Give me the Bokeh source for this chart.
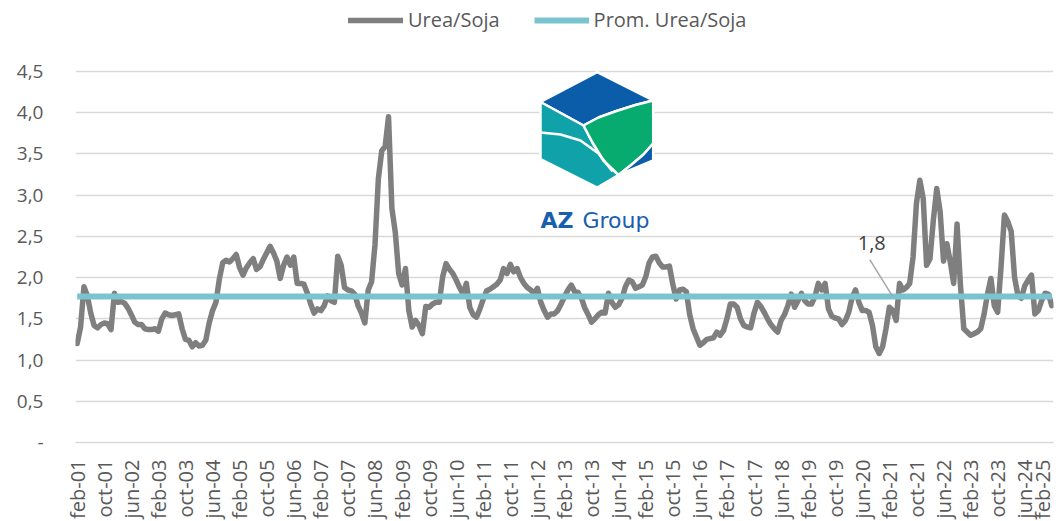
import math
from bokeh.plotting import figure
from bokeh.models import FixedTicker, Legend, LegendItem, Label
from bokeh.core.properties import value
from bokeh.embed import file_html
from bokeh.resources import INLINE

# ---------------- data ----------------
MONTH_ABBR = ["ene", "feb", "mar", "abr", "may", "jun", "jul", "ago", "sep", "oct", "nov", "dic"]
START_YEAR = 2001
START_MONTH = 2  # feb-01

UREA_SOJA = [
    1.20, 1.40, 1.89, 1.78, 1.57, 1.42, 1.39, 1.43, 1.45, 1.44, 1.37, 1.81,
    1.70, 1.71, 1.69, 1.63, 1.55, 1.46, 1.43, 1.43, 1.38, 1.37, 1.37, 1.38,
    1.35, 1.50, 1.57, 1.55, 1.54, 1.55, 1.56, 1.38, 1.25, 1.24, 1.16, 1.21,
    1.17, 1.18, 1.24, 1.45, 1.60, 1.70, 1.98, 2.18, 2.21, 2.19, 2.23, 2.28,
    2.12, 2.03, 2.12, 2.18, 2.23, 2.10, 2.13, 2.22, 2.30, 2.38, 2.30, 2.20,
    1.99, 2.15, 2.25, 2.15, 2.25, 1.93, 1.93, 1.92, 1.81, 1.68, 1.57, 1.62,
    1.60, 1.66, 1.78, 1.72, 1.70, 2.26, 2.15, 1.88, 1.85, 1.84, 1.80, 1.66,
    1.57, 1.45, 1.85, 1.95, 2.40, 3.20, 3.54, 3.59, 3.95, 2.84, 2.55, 2.05,
    1.91, 2.11, 1.60, 1.40, 1.48, 1.42, 1.32, 1.65, 1.64, 1.68, 1.70, 1.70,
    2.01, 2.17, 2.10, 2.05, 1.97, 1.88, 1.80, 1.93, 1.64, 1.55, 1.52, 1.62,
    1.74, 1.84, 1.86, 1.89, 1.92, 1.97, 2.11, 2.05, 2.16, 2.07, 2.11, 2.00,
    1.93, 1.88, 1.85, 1.81, 1.87, 1.70, 1.60, 1.52, 1.56, 1.56, 1.60, 1.68,
    1.77, 1.85, 1.91, 1.83, 1.82, 1.75, 1.63, 1.55, 1.46, 1.50, 1.55, 1.58,
    1.57, 1.81, 1.70, 1.64, 1.67, 1.75, 1.89, 1.97, 1.95, 1.87, 1.89, 1.91,
    2.01, 2.18, 2.25, 2.26, 2.18, 2.13, 2.13, 2.14, 1.92, 1.74, 1.85, 1.86,
    1.83, 1.55, 1.38, 1.28, 1.18, 1.21, 1.25, 1.26, 1.27, 1.34, 1.30, 1.36,
    1.50, 1.68, 1.68, 1.64, 1.50, 1.42, 1.40, 1.39, 1.57, 1.70, 1.65, 1.58,
    1.50, 1.43, 1.38, 1.34, 1.48, 1.55, 1.66, 1.80, 1.64, 1.72, 1.81, 1.72,
    1.68, 1.68, 1.77, 1.93, 1.85, 1.93, 1.62, 1.53, 1.51, 1.50, 1.43, 1.48,
    1.58, 1.76, 1.85, 1.70, 1.60, 1.60, 1.58, 1.42, 1.16, 1.08, 1.16, 1.38,
    1.64, 1.60, 1.48, 1.93, 1.85, 1.88, 1.93, 2.25, 2.90, 3.18, 2.96, 2.15,
    2.23, 2.70, 3.08, 2.80, 2.20, 2.41, 2.19, 1.93, 2.65, 1.91, 1.38, 1.34,
    1.30, 1.32, 1.34, 1.38, 1.56, 1.80, 1.99, 1.66, 1.58, 2.13, 2.76, 2.68,
    2.56, 2.00, 1.78, 1.75, 1.90, 1.97, 2.03, 1.56, 1.60, 1.72, 1.81, 1.80,
    1.66,
]
PROM_UREA_SOJA = 1.77

SERIES_NAMES = ["Urea/Soja", "Prom. Urea/Soja"]
Y_TICKS = [0, 0.5, 1.0, 1.5, 2.0, 2.5, 3.0, 3.5, 4.0, 4.5]
Y_TICK_LABELS = ["-", "0,5", "1,0", "1,5", "2,0", "2,5", "3,0", "3,5", "4,0", "4,5"]
Y_AXIS_MAX = 4.5
LABEL_STEP = 8
ANNOT_TEXT = "1,8"
ANNOT_INDEX = 241

# ---------------- derived ----------------
n = len(UREA_SOJA)
xs = list(range(n))
month_labels = []
for i in range(n):
    m = START_MONTH - 1 + i
    month_labels.append(f"{MONTH_ABBR[m % 12]}-{(START_YEAR + m // 12) % 100:02d}")
x_ticks = list(range(0, n, LABEL_STEP))

FONT = "Open Sans"
TXT = "#595959"
GRID = "#D9D9D9"
FS = "20px"
TICK_FS = "19px"

# the value axis spans 371 px (0 .. 4.5); the frame is extended upward so
# that the legend and logo (drawn in the top white space) sit inside it.
AXIS_PX = 371
FW, FH = 978, 442
BL, BR, BT, BB = 75, 2, 0, 77
X0, X1 = -0.5, n - 0.5
PPX = FW / (X1 - X0)
PPY = AXIS_PX / Y_AXIS_MAX
Y0 = 0
Y1 = Y0 + FH / PPY

p = figure(frame_width=FW, frame_height=FH, x_range=(X0, X1), y_range=(Y0, Y1),
           output_backend="svg", toolbar_location=None,
           min_border_left=BL, min_border_right=BR, min_border_top=BT, min_border_bottom=BB)
p.outline_line_color = None
p.background_fill_color = "white"
p.border_fill_color = "white"

LEFT_PAGE = BL
BOTTOM_PAGE = BT + FH


def dx(px):
    return X0 + (px - LEFT_PAGE) / PPX


def dy(py):
    return Y0 + (BOTTOM_PAGE - py) / PPY


# axes
p.xaxis.ticker = FixedTicker(ticks=x_ticks)
p.xaxis.major_label_overrides = {t: month_labels[t] for t in x_ticks}
p.xaxis.major_label_orientation = math.pi / 2
p.xaxis.major_tick_line_color = None
p.xaxis.minor_tick_line_color = None
p.xaxis.axis_line_color = GRID
p.xaxis.axis_line_width = 1.5
p.xaxis.major_label_standoff = 11
p.xaxis.major_label_text_font = FONT
p.xaxis.major_label_text_font_size = FS
p.xaxis.major_label_text_color = TXT

p.yaxis.ticker = FixedTicker(ticks=Y_TICKS)
p.yaxis.major_label_overrides = {t: l for t, l in zip(Y_TICKS, Y_TICK_LABELS)}
p.yaxis.major_tick_line_color = None
p.yaxis.minor_tick_line_color = None
p.yaxis.axis_line_color = None
p.yaxis.major_label_standoff = 26
p.yaxis.major_label_text_font = FONT
p.yaxis.major_label_text_font_size = TICK_FS
p.yaxis.major_label_text_color = TXT

p.xgrid.visible = False
p.ygrid.grid_line_color = GRID
p.ygrid.grid_line_width = 1.5

# ---------------- logo (decoration) ----------------
BLUE = "#0B5DAA"
TEAL = "#0FA2A8"
GREEN = "#07AA6F"


def patch_px(pts, color):
    p.patch([dx(a) for a, b in pts], [dy(b) for a, b in pts], fill_color=color,
            line_color="white", line_width=2.5, line_join="round")


T = (596.7, 71.7)
UR = (652.7, 100.0)
RM = (652.7, 143.0)
LR = (652.7, 160.0)
B = (596.7, 187.0)
LL = (540.0, 158.5)
UL = (540.0, 101.5)
C = (583.0, 125.0)
BOT = (618.0, 174.5)
upper_curve = [(598, 117), (616, 110.5), (635, 104.5)]
right_curve = [(643, 154), (630, 165)]
left_curve = [(603, 160), (592, 142)]

patch_px([T, UR] + upper_curve[::-1] + [C, UL], BLUE)
patch_px([UL, C] + left_curve[::-1] + [BOT, B, LL], TEAL)
patch_px([C] + upper_curve + [UR, RM] + right_curve + [BOT] + left_curve, GREEN)
patch_px([RM, LR, BOT] + right_curve[::-1], BLUE)
inner = [(540, 132), (560, 134), (580, 140), (598, 153), (612, 171)]
p.line([dx(a) for a, b in inner], [dy(b) for a, b in inner], line_color="white", line_width=2.5)

p.text(x=[dx(540)], y=[dy(220)], text=["AZ"], text_font=value("DejaVu Sans"), text_font_style="bold",
       text_font_size="22px", text_color="#1760B0", text_baseline="alphabetic", text_align="left")
p.text(x=[dx(582)], y=[dy(220)], text=["Group"], text_font=value("DejaVu Sans"),
       text_font_size="22px", text_color="#1760B0", text_baseline="alphabetic", text_align="left")

# ---------------- series ----------------
r_main = p.line(xs, UREA_SOJA, line_color="#7F7F7F", line_width=5.5, line_join="round", line_cap="round")
r_prom = p.line(xs, [PROM_UREA_SOJA] * n, line_color="#7AC4D0", line_width=6)

# annotation
ax = ANNOT_INDEX
p.segment(x0=[ax - 23 / PPX], y0=[PROM_UREA_SOJA + 37 / PPY], x1=[ax], y1=[PROM_UREA_SOJA],
          line_color="#A6A6A6", line_width=1.5)
p.add_layout(Label(x=ax - 21 / PPX, y=PROM_UREA_SOJA + 54 / PPY, text=ANNOT_TEXT,
                   text_font=FONT, text_font_size=FS, text_color="#404040",
                   text_align="center", text_baseline="middle"))

# legend (top white space, inside the extended frame)
LEG_H = 20
legend = Legend(items=[LegendItem(label=SERIES_NAMES[0], renderers=[r_main]),
                       LegendItem(label=SERIES_NAMES[1], renderers=[r_prom])],
                orientation="horizontal", location=(348 - LEFT_PAGE, FH - 13 - LEG_H),
                glyph_width=55, glyph_height=LEG_H, label_height=LEG_H, label_standoff=5, spacing=34,
                padding=0, margin=0, border_line_color=None, background_fill_alpha=0,
                label_text_font=FONT, label_text_font_size=FS, label_text_color=TXT)
p.add_layout(legend)

open("out.html", "w").write(file_html(p, INLINE))
